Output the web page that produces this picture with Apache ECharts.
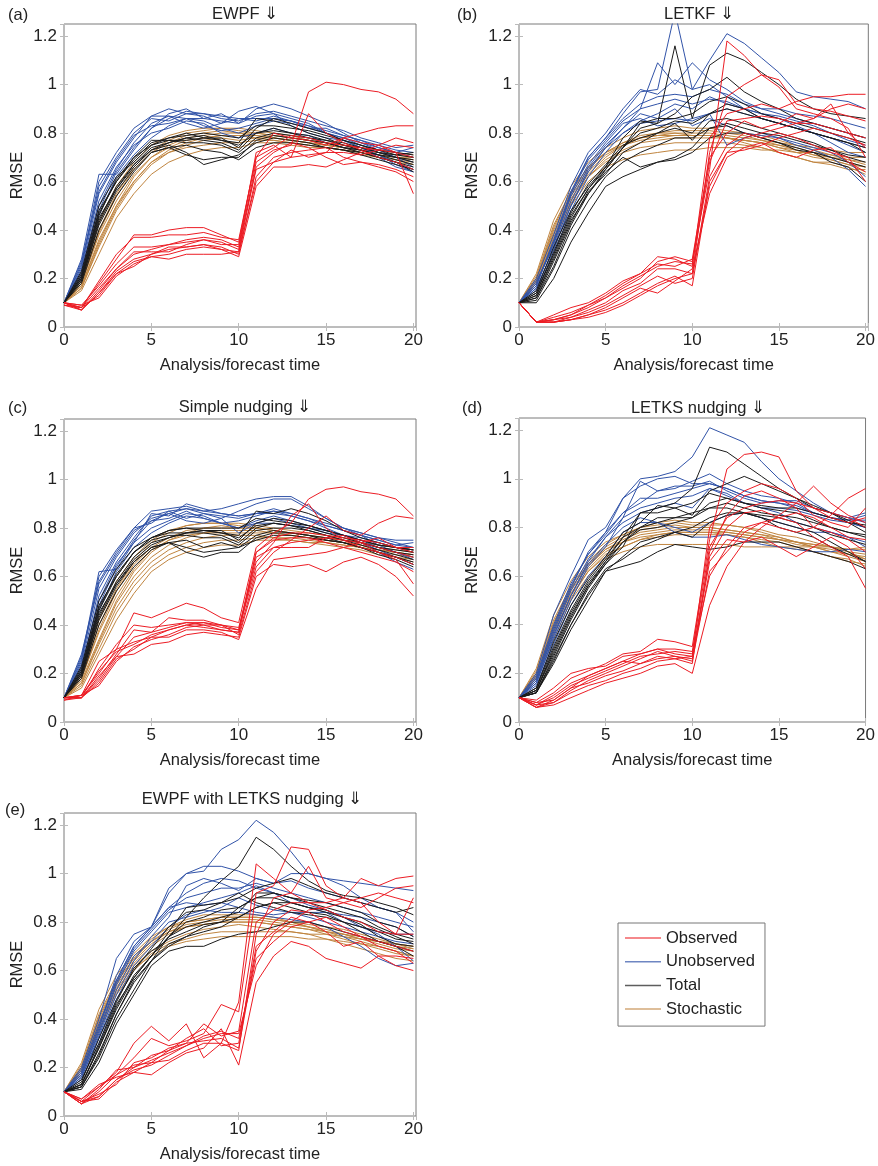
<!DOCTYPE html>
<html>
<head>
<meta charset="utf-8">
<script src="https://cdn.jsdelivr.net/npm/echarts@6/dist/echarts.min.js"></script>
<style>
  html, body { margin: 0; padding: 0; background: #fff; }
  #main { width: 878px; height: 1166px; }
</style>
</head>
<body>
<div id="main"></div>
<script>
// RMSE vs analysis/forecast time, t = 0..20
var panelTitles = ['EWPF \u21D3', 'LETKF \u21D3', 'Simple nudging \u21D3', 'LETKS nudging \u21D3', 'EWPF with LETKS nudging \u21D3'];
var panelTags = ['(a)', '(b)', '(c)', '(d)', '(e)'];
var typeNames = ['Observed', 'Unobserved', 'Total', 'Stochastic'];
var xTicks = [0, 5, 10, 15, 20];
var yTicks = [0, 0.2, 0.4, 0.6, 0.8, 1, 1.2];

// (a) EWPF
var aObs = [
  [.10,.08,.13,.22,.25,.30,.32,.33,.34,.33,.30,.62,.70,.72,.73,.74,.70,.68,.66,.64,.60],
  [.10,.07,.15,.24,.30,.32,.34,.35,.36,.35,.32,.68,.73,.75,.97,1.01,1.00,.98,.97,.94,.88],
  [.09,.08,.18,.28,.38,.38,.40,.41,.41,.38,.35,.70,.80,.78,.77,.75,.78,.80,.82,.83,.83],
  [.10,.09,.17,.26,.33,.33,.34,.36,.37,.36,.33,.72,.75,.70,.88,.80,.76,.73,.70,.68,.65],
  [.10,.07,.14,.22,.27,.29,.30,.32,.33,.32,.29,.58,.66,.66,.67,.66,.69,.72,.75,.78,.76],
  [.09,.08,.16,.24,.31,.31,.31,.34,.36,.34,.34,.65,.68,.73,.70,.72,.78,.76,.75,.72,.55],
  [.10,.09,.12,.21,.26,.29,.28,.30,.30,.30,.31,.66,.72,.76,.74,.70,.67,.68,.67,.65,.62],
  [.10,.08,.19,.30,.37,.37,.38,.38,.39,.37,.36,.70,.74,.79,.78,.76,.75,.74,.73,.72,.70],
  [.09,.07,.14,.23,.28,.30,.33,.33,.34,.32,.31,.60,.68,.70,.71,.72,.72,.71,.73,.75,.74]
];
var aUnobs = [
  [.10,.22,.50,.65,.76,.84,.87,.86,.86,.85,.84,.87,.88,.86,.84,.80,.78,.76,.73,.70,.66],
  [.10,.25,.58,.70,.80,.86,.85,.88,.87,.84,.86,.85,.87,.85,.82,.80,.78,.75,.72,.70,.68],
  [.10,.28,.63,.63,.73,.82,.88,.90,.86,.88,.84,.90,.92,.90,.87,.84,.80,.76,.74,.72,.74],
  [.10,.20,.46,.62,.71,.78,.83,.86,.85,.82,.80,.83,.85,.84,.82,.82,.79,.77,.74,.72,.70],
  [.10,.24,.55,.68,.78,.87,.87,.84,.82,.84,.89,.91,.88,.83,.80,.78,.77,.74,.70,.66,.64],
  [.10,.23,.52,.66,.75,.80,.82,.85,.84,.80,.78,.80,.82,.80,.79,.76,.74,.73,.71,.68,.65],
  [.10,.26,.60,.72,.82,.87,.90,.88,.88,.86,.85,.88,.89,.87,.85,.83,.81,.78,.76,.74,.75],
  [.10,.21,.48,.64,.74,.82,.86,.89,.88,.87,.86,.86,.86,.85,.83,.81,.79,.77,.75,.73,.72],
  [.10,.27,.56,.69,.79,.83,.84,.86,.83,.81,.82,.84,.86,.85,.83,.80,.77,.74,.71,.67,.64]
];
var aTot = [
  [.10,.20,.44,.58,.67,.74,.76,.78,.77,.76,.73,.80,.82,.80,.78,.76,.74,.73,.71,.70,.68],
  [.10,.18,.40,.54,.64,.72,.74,.75,.73,.72,.69,.74,.76,.76,.75,.74,.73,.72,.70,.68,.66],
  [.10,.22,.48,.60,.69,.76,.78,.80,.78,.77,.76,.86,.85,.83,.80,.78,.75,.74,.72,.71,.72],
  [.10,.19,.42,.56,.65,.72,.74,.71,.69,.70,.70,.77,.79,.78,.77,.76,.74,.72,.70,.68,.64],
  [.10,.21,.46,.61,.70,.77,.77,.77,.78,.78,.74,.82,.86,.84,.82,.80,.77,.75,.73,.71,.70],
  [.10,.20,.45,.57,.66,.73,.75,.72,.67,.69,.71,.76,.78,.77,.76,.74,.73,.71,.69,.67,.65],
  [.10,.23,.50,.62,.68,.75,.78,.79,.80,.79,.78,.83,.83,.82,.81,.79,.77,.75,.73,.72,.71],
  [.10,.21,.47,.60,.70,.75,.77,.76,.76,.75,.72,.78,.80,.79,.78,.77,.75,.73,.71,.69,.67],
  [.10,.19,.43,.57,.67,.73,.76,.78,.79,.77,.75,.80,.81,.80,.79,.77,.76,.74,.72,.70,.69]
];
var aSto = [
  [.10,.17,.35,.50,.62,.70,.75,.78,.79,.80,.80,.79,.78,.77,.76,.75,.74,.73,.72,.70,.69],
  [.10,.15,.30,.45,.55,.63,.68,.71,.73,.74,.74,.76,.76,.75,.74,.74,.73,.72,.70,.69,.67],
  [.10,.19,.40,.55,.66,.73,.77,.80,.81,.82,.82,.81,.80,.79,.77,.76,.75,.73,.72,.71,.70],
  [.10,.18,.38,.52,.63,.70,.74,.77,.78,.79,.79,.78,.78,.77,.76,.75,.74,.73,.72,.70,.70],
  [.10,.16,.33,.48,.59,.67,.72,.75,.77,.78,.77,.78,.77,.76,.75,.74,.73,.72,.70,.69,.68],
  [.10,.20,.43,.58,.68,.75,.79,.81,.82,.82,.81,.80,.79,.78,.77,.76,.75,.74,.73,.72,.71],
  [.10,.17,.36,.50,.60,.68,.72,.74,.75,.76,.76,.77,.77,.76,.75,.74,.73,.71,.70,.68,.67],
  [.10,.18,.39,.54,.65,.72,.76,.79,.80,.81,.80,.80,.79,.78,.77,.75,.74,.73,.71,.70,.69],
  [.10,.16,.34,.49,.60,.68,.73,.76,.78,.79,.79,.79,.78,.77,.76,.75,.74,.72,.71,.70,.68]
];

// (b) LETKF
var bObs = [
  [.10,.02,.02,.03,.05,.07,.10,.14,.18,.21,.17,.60,.72,.73,.75,.78,.80,.82,.80,.78,.75],
  [.10,.02,.03,.05,.08,.12,.16,.20,.27,.29,.27,.65,1.18,1.12,1.04,.99,.90,.88,.86,.82,.70],
  [.10,.02,.02,.04,.07,.10,.15,.18,.24,.24,.22,.72,.95,1.00,1.04,1.02,.92,.90,.89,.87,.85],
  [.10,.02,.04,.06,.09,.13,.18,.22,.29,.28,.25,.78,.88,.90,.92,.90,.93,.95,.95,.96,.96],
  [.10,.02,.02,.03,.05,.08,.12,.16,.14,.19,.24,.55,.70,.74,.76,.72,.70,.73,.74,.68,.64],
  [.10,.02,.05,.08,.10,.14,.19,.22,.26,.25,.28,.70,.80,.85,.82,.84,.88,.86,.92,.80,.74],
  [.10,.02,.03,.04,.06,.09,.13,.17,.21,.18,.20,.62,.75,.80,.78,.80,.78,.75,.72,.70,.60],
  [.10,.02,.03,.05,.09,.12,.17,.21,.25,.27,.26,.68,.85,.86,.87,.86,.84,.84,.82,.80,.78],
  [.10,.02,.02,.03,.04,.06,.09,.13,.17,.20,.22,.58,.72,.78,.80,.82,.84,.86,.90,.92,.90]
];
var bUnobs = [
  [.10,.18,.35,.55,.70,.78,.88,.97,.98,1.30,.98,1.10,1.21,1.17,1.11,1.05,.97,.95,.94,.93,.90],
  [.10,.16,.32,.50,.64,.74,.82,.90,1.09,1.00,1.09,1.02,.98,.93,.90,.88,.86,.84,.82,.80,.78],
  [.10,.20,.38,.58,.72,.80,.90,.98,.96,1.02,.98,1.00,.95,.90,.88,.86,.83,.80,.78,.75,.72],
  [.10,.15,.30,.48,.62,.72,.80,.85,.88,.92,.90,.95,.92,.90,.86,.84,.82,.80,.76,.72,.70],
  [.10,.18,.34,.54,.67,.76,.84,.86,.83,.84,.86,.88,.75,.78,.80,.78,.75,.73,.70,.65,.58],
  [.10,.17,.36,.56,.70,.78,.86,.92,.95,.96,.95,.98,.96,.92,.90,.90,.88,.87,.86,.84,.82],
  [.10,.19,.33,.52,.66,.75,.82,.88,.86,.90,.83,.86,.83,.80,.79,.78,.76,.74,.72,.68,.62],
  [.10,.17,.35,.55,.69,.77,.85,.90,.92,.94,.92,.94,.93,.90,.88,.87,.85,.83,.80,.77,.75],
  [.10,.16,.32,.50,.65,.74,.80,.84,.85,.86,.85,.88,.90,.88,.86,.84,.82,.80,.78,.76,.74]
];
var bTot = [
  [.10,.12,.25,.42,.55,.65,.74,.82,.84,1.16,.86,1.08,1.13,1.10,1.05,1.00,.94,.90,.88,.87,.86],
  [.10,.10,.20,.35,.47,.58,.62,.65,.68,.70,.74,.82,.83,.80,.78,.76,.73,.72,.70,.68,.66],
  [.10,.14,.30,.46,.57,.65,.74,.84,.86,.86,.88,.93,.95,.92,.88,.86,.84,.82,.80,.78,.76],
  [.10,.15,.33,.48,.58,.66,.78,.85,.84,.88,.95,.98,1.03,.97,.93,.90,.86,.84,.82,.80,.78],
  [.10,.13,.28,.44,.55,.64,.70,.66,.68,.69,.72,.78,.80,.80,.78,.76,.74,.72,.68,.66,.60],
  [.10,.12,.27,.43,.56,.63,.72,.76,.80,.82,.80,.88,.92,.90,.86,.84,.82,.80,.78,.76,.72],
  [.10,.14,.31,.47,.59,.67,.75,.78,.80,.84,.77,.85,.86,.84,.82,.80,.78,.76,.73,.70,.68],
  [.10,.13,.29,.45,.57,.66,.74,.80,.82,.85,.84,.88,.90,.88,.86,.84,.82,.80,.78,.76,.74],
  [.10,.11,.24,.40,.52,.62,.68,.72,.75,.78,.78,.82,.84,.82,.80,.79,.77,.75,.73,.71,.70]
];
var bSto = [
  [.10,.22,.44,.58,.68,.74,.78,.81,.82,.83,.82,.82,.81,.80,.79,.77,.75,.73,.71,.69,.67],
  [.10,.18,.36,.51,.62,.69,.73,.76,.77,.78,.78,.78,.78,.77,.76,.74,.73,.71,.69,.67,.64],
  [.10,.20,.40,.55,.65,.72,.76,.79,.80,.81,.81,.81,.80,.79,.77,.75,.73,.71,.70,.68,.66],
  [.10,.17,.35,.50,.60,.66,.69,.71,.72,.73,.73,.74,.74,.74,.73,.73,.72,.72,.71,.70,.70],
  [.10,.21,.42,.56,.66,.72,.76,.78,.79,.80,.79,.79,.78,.76,.74,.72,.70,.68,.68,.66,.63],
  [.10,.19,.38,.53,.63,.70,.75,.78,.80,.80,.80,.80,.79,.78,.77,.76,.75,.74,.73,.72,.72],
  [.10,.18,.37,.52,.62,.68,.72,.74,.75,.76,.76,.76,.76,.75,.74,.72,.70,.68,.67,.65,.65],
  [.10,.19,.39,.54,.64,.71,.75,.78,.79,.79,.79,.79,.78,.77,.76,.75,.74,.72,.70,.69,.68],
  [.10,.20,.41,.56,.66,.72,.75,.77,.78,.79,.79,.79,.78,.77,.76,.74,.72,.70,.69,.67,.66]
];

// (c) Simple nudging
var cObs = [
  [.10,.10,.16,.26,.30,.35,.38,.40,.41,.40,.38,.70,.75,.76,.76,.74,.72,.70,.68,.66,.62],
  [.10,.11,.20,.30,.45,.43,.46,.49,.47,.43,.41,.72,.78,.82,.92,.96,.97,.95,.94,.92,.85],
  [.09,.10,.18,.28,.38,.37,.43,.42,.42,.40,.36,.62,.70,.75,.80,.85,.79,.77,.82,.85,.84],
  [.10,.10,.22,.32,.40,.39,.40,.41,.40,.40,.39,.66,.74,.85,.90,.80,.75,.72,.70,.68,.65],
  [.09,.11,.25,.30,.33,.35,.35,.38,.38,.37,.34,.55,.67,.68,.69,.70,.72,.74,.76,.72,.70],
  [.10,.10,.19,.27,.28,.32,.33,.36,.37,.36,.35,.60,.65,.64,.65,.62,.66,.68,.65,.60,.52],
  [.10,.11,.15,.25,.31,.34,.36,.39,.40,.38,.37,.68,.72,.72,.72,.76,.77,.74,.70,.67,.57],
  [.10,.10,.17,.27,.35,.37,.39,.41,.41,.39,.38,.64,.72,.74,.75,.76,.75,.74,.72,.70,.68],
  [.10,.11,.21,.29,.32,.36,.38,.40,.39,.38,.37,.70,.76,.78,.78,.77,.76,.75,.74,.72,.72]
];
var cUnobs = [
  [.10,.22,.52,.66,.76,.85,.87,.88,.86,.84,.87,.90,.92,.92,.88,.84,.80,.78,.76,.74,.72],
  [.10,.26,.62,.63,.74,.86,.85,.90,.88,.86,.85,.86,.88,.86,.84,.81,.79,.77,.75,.73,.74],
  [.10,.28,.58,.70,.80,.87,.88,.89,.87,.88,.90,.92,.93,.93,.89,.84,.80,.77,.73,.70,.67],
  [.10,.20,.46,.62,.72,.78,.82,.85,.84,.82,.80,.82,.84,.82,.80,.79,.77,.75,.72,.70,.68],
  [.10,.24,.55,.68,.78,.84,.86,.83,.82,.84,.78,.82,.82,.81,.80,.78,.77,.74,.70,.66,.63],
  [.10,.23,.50,.65,.74,.80,.83,.86,.85,.82,.80,.83,.85,.83,.81,.79,.77,.76,.74,.72,.71],
  [.10,.25,.60,.71,.80,.82,.87,.84,.86,.85,.84,.86,.87,.86,.84,.82,.80,.78,.76,.75,.75],
  [.10,.21,.48,.64,.75,.83,.86,.88,.87,.86,.85,.86,.86,.85,.83,.81,.79,.77,.75,.73,.72],
  [.10,.27,.57,.69,.79,.83,.84,.87,.84,.82,.83,.85,.87,.85,.83,.80,.77,.74,.71,.68,.65]
];
var cTot = [
  [.10,.20,.44,.58,.68,.74,.76,.78,.78,.77,.74,.80,.82,.81,.79,.77,.75,.74,.72,.71,.70],
  [.10,.18,.40,.54,.64,.71,.74,.75,.72,.74,.72,.75,.77,.77,.76,.75,.74,.72,.70,.68,.66],
  [.10,.22,.48,.60,.70,.76,.79,.80,.79,.78,.77,.87,.86,.88,.86,.83,.79,.76,.74,.72,.71],
  [.10,.19,.42,.56,.66,.72,.74,.70,.68,.70,.70,.76,.78,.78,.77,.76,.74,.72,.70,.68,.65],
  [.10,.21,.46,.60,.70,.76,.78,.78,.79,.79,.75,.82,.84,.83,.81,.79,.77,.75,.73,.72,.71],
  [.10,.20,.45,.57,.66,.72,.74,.72,.70,.71,.72,.77,.79,.78,.77,.75,.74,.72,.69,.67,.64],
  [.10,.23,.50,.63,.72,.76,.79,.80,.80,.80,.80,.84,.83,.82,.81,.79,.77,.75,.73,.72,.70],
  [.10,.21,.47,.61,.70,.75,.77,.77,.76,.76,.73,.79,.80,.80,.79,.77,.75,.73,.71,.69,.67],
  [.10,.19,.43,.57,.67,.73,.76,.78,.79,.78,.76,.81,.82,.81,.80,.78,.76,.74,.72,.70,.69]
];
var cSto = [
  [.10,.17,.34,.50,.62,.70,.75,.78,.80,.80,.80,.80,.79,.78,.77,.76,.75,.74,.72,.71,.70],
  [.10,.14,.28,.42,.53,.62,.67,.70,.72,.73,.73,.75,.75,.75,.74,.74,.73,.72,.70,.68,.66],
  [.10,.19,.40,.55,.66,.74,.78,.81,.82,.82,.82,.81,.80,.79,.78,.77,.76,.74,.73,.72,.71],
  [.10,.18,.37,.52,.63,.71,.75,.77,.78,.78,.78,.78,.78,.77,.76,.75,.74,.73,.71,.70,.69],
  [.10,.16,.32,.47,.58,.66,.71,.74,.76,.77,.77,.77,.76,.76,.75,.74,.73,.72,.70,.69,.68],
  [.10,.20,.42,.58,.68,.75,.79,.81,.82,.82,.81,.80,.79,.78,.77,.76,.75,.74,.73,.72,.71],
  [.10,.15,.30,.45,.56,.64,.69,.72,.74,.75,.75,.76,.76,.75,.74,.73,.72,.71,.69,.68,.67],
  [.10,.18,.38,.54,.65,.72,.76,.79,.80,.81,.80,.80,.79,.78,.77,.75,.74,.73,.71,.70,.69],
  [.10,.16,.33,.49,.60,.68,.73,.76,.78,.79,.79,.79,.78,.77,.76,.75,.74,.72,.71,.70,.68]
];

// (d) LETKS nudging
var dObs = [
  [.10,.07,.08,.12,.15,.17,.20,.22,.25,.26,.24,.70,.85,.93,.95,.92,.88,.80,.78,.75,.70],
  [.10,.06,.07,.10,.13,.16,.18,.20,.23,.24,.20,.48,.64,.74,.80,.85,.90,.97,.90,.85,.82],
  [.10,.08,.12,.18,.21,.24,.28,.29,.34,.33,.31,.75,1.04,1.10,1.11,1.09,.95,.88,.86,.84,.80],
  [.10,.09,.14,.20,.22,.23,.27,.28,.30,.28,.27,.80,.90,.95,.98,.96,.92,.85,.82,.80,.88],
  [.10,.06,.08,.13,.17,.20,.23,.26,.29,.27,.26,.66,.75,.74,.76,.72,.68,.72,.76,.72,.63],
  [.10,.07,.10,.15,.18,.21,.24,.27,.28,.29,.28,.60,.72,.80,.82,.80,.78,.80,.85,.92,.96],
  [.10,.08,.09,.14,.19,.22,.25,.24,.27,.26,.27,.68,.80,.86,.87,.84,.82,.76,.72,.68,.55],
  [.10,.07,.11,.16,.19,.22,.25,.28,.30,.30,.29,.72,.84,.88,.90,.91,.90,.88,.84,.82,.84],
  [.10,.06,.09,.14,.16,.19,.21,.24,.26,.27,.25,.62,.70,.78,.82,.84,.86,.84,.80,.76,.75]
];
var dUnobs = [
  [.10,.18,.38,.55,.70,.78,.92,1.00,1.01,1.03,1.09,1.21,1.18,1.15,1.07,1.00,.95,.90,.86,.84,.82],
  [.10,.16,.34,.50,.64,.72,.84,.99,.95,.96,.99,1.02,.98,.95,.93,.92,.90,.86,.84,.83,.85],
  [.10,.20,.44,.60,.75,.80,.92,.97,1.00,1.01,.98,.98,.96,.93,.91,.90,.89,.86,.84,.82,.80],
  [.10,.15,.32,.48,.60,.68,.78,.82,.82,.80,.78,.82,.85,.86,.84,.82,.80,.78,.78,.76,.74],
  [.10,.17,.36,.52,.66,.76,.82,.86,.88,.90,.88,.96,.94,.90,.88,.86,.82,.80,.78,.76,.72],
  [.10,.19,.40,.57,.69,.77,.86,.90,.95,.97,.97,.99,.95,.92,.90,.91,.91,.88,.86,.84,.86],
  [.10,.16,.35,.52,.65,.73,.80,.84,.82,.78,.76,.76,.77,.75,.73,.72,.71,.70,.70,.71,.70],
  [.10,.17,.37,.54,.67,.76,.84,.88,.90,.92,.93,.96,.93,.90,.88,.88,.87,.85,.83,.82,.80],
  [.10,.18,.39,.56,.69,.78,.86,.92,.92,.94,.96,.98,.96,.93,.91,.90,.88,.86,.84,.83,.83]
];
var dTot = [
  [.10,.12,.27,.42,.55,.65,.72,.86,.88,.90,.96,1.13,1.11,1.06,1.01,.96,.92,.88,.86,.82,.78],
  [.10,.12,.24,.38,.50,.62,.64,.66,.70,.73,.72,.71,.72,.74,.74,.74,.72,.70,.68,.66,.63],
  [.10,.13,.30,.45,.57,.66,.76,.86,.86,.88,.85,.95,.98,1.01,.98,.95,.92,.89,.86,.83,.80],
  [.10,.14,.33,.48,.59,.68,.78,.82,.89,.88,.90,.94,.92,.90,.89,.88,.88,.86,.84,.82,.81],
  [.10,.12,.26,.40,.53,.63,.67,.72,.75,.78,.76,.82,.85,.86,.84,.80,.78,.76,.72,.69,.66],
  [.10,.13,.29,.44,.56,.66,.74,.79,.80,.82,.84,.90,.92,.90,.88,.87,.86,.83,.80,.78,.76],
  [.10,.14,.31,.46,.58,.67,.76,.80,.84,.84,.86,.88,.88,.86,.84,.82,.80,.78,.74,.70,.66],
  [.10,.13,.28,.43,.56,.65,.74,.80,.82,.84,.84,.88,.90,.88,.86,.85,.84,.82,.80,.78,.77],
  [.10,.12,.25,.40,.52,.62,.68,.74,.76,.78,.80,.84,.86,.86,.85,.84,.82,.80,.77,.75,.73]
];
var dSto = [
  [.10,.22,.44,.58,.68,.74,.77,.80,.81,.82,.81,.81,.81,.80,.79,.77,.76,.74,.72,.70,.67],
  [.10,.18,.36,.51,.62,.69,.72,.75,.76,.77,.77,.77,.77,.76,.75,.74,.72,.70,.68,.67,.64],
  [.10,.20,.40,.55,.65,.72,.76,.79,.80,.81,.80,.80,.79,.78,.77,.76,.74,.73,.72,.70,.69],
  [.10,.17,.34,.50,.60,.67,.70,.72,.73,.73,.73,.73,.73,.72,.72,.72,.72,.72,.72,.71,.71],
  [.10,.21,.42,.56,.66,.73,.77,.80,.82,.83,.82,.82,.81,.80,.78,.76,.74,.72,.70,.68,.66],
  [.10,.19,.38,.53,.63,.70,.74,.77,.78,.79,.79,.79,.78,.77,.76,.75,.74,.73,.72,.71,.72],
  [.10,.18,.37,.52,.62,.68,.72,.75,.77,.78,.78,.78,.77,.76,.74,.72,.71,.70,.68,.66,.65],
  [.10,.19,.39,.54,.64,.71,.75,.78,.79,.80,.80,.80,.79,.78,.77,.75,.74,.72,.71,.69,.68],
  [.10,.20,.41,.55,.65,.71,.74,.76,.77,.78,.78,.78,.78,.77,.76,.75,.73,.72,.70,.69,.67]
];

// (e) EWPF with LETKS nudging
var eObs = [
  [.10,.06,.07,.14,.18,.22,.23,.27,.30,.30,.27,.75,.90,.92,.88,.85,.82,.80,.76,.75,.75],
  [.10,.05,.10,.17,.24,.32,.29,.31,.34,.46,.43,.92,.95,1.11,1.10,.95,.90,.98,.95,.98,.99],
  [.10,.06,.12,.18,.30,.37,.31,.38,.24,.30,.47,1.04,.98,.92,1.03,.90,.88,.86,.90,.94,.95],
  [.10,.05,.08,.15,.19,.21,.25,.29,.33,.35,.32,.65,.72,.78,.80,.76,.70,.72,.66,.66,.65],
  [.10,.07,.13,.16,.18,.17,.22,.26,.28,.36,.21,.55,.66,.72,.70,.65,.63,.61,.66,.62,.60],
  [.10,.06,.09,.13,.22,.24,.28,.30,.38,.33,.35,.80,.85,.88,.88,.88,.90,.88,.80,.75,.90],
  [.10,.05,.11,.19,.20,.25,.27,.32,.36,.29,.30,.70,.76,.82,.80,.82,.78,.74,.70,.68,.63],
  [.10,.06,.08,.15,.20,.23,.26,.29,.32,.34,.34,.62,.75,.80,.85,.86,.88,.90,.92,.90,.88],
  [.10,.07,.12,.17,.21,.22,.27,.30,.31,.32,.28,.68,.80,.85,.84,.80,.76,.74,.72,.70,.68]
];
var eUnobs = [
  [.10,.18,.36,.58,.72,.78,.92,1.00,1.01,1.10,1.14,1.22,1.17,1.09,1.00,.98,.97,.96,.95,.94,.93],
  [.10,.16,.32,.50,.64,.74,.82,.95,.98,.96,.93,.98,.96,.97,.94,.92,.90,.88,.86,.84,.80],
  [.10,.20,.40,.65,.75,.78,.94,1.00,1.03,1.03,1.01,.98,.96,1.00,1.00,.98,.95,.90,.86,.84,.76],
  [.10,.15,.30,.48,.62,.70,.78,.83,.85,.84,.84,.83,.82,.81,.80,.78,.74,.70,.65,.62,.63],
  [.10,.17,.34,.54,.68,.76,.84,.86,.88,.90,.92,.95,.92,.88,.86,.84,.80,.78,.76,.75,.75],
  [.10,.19,.38,.56,.70,.78,.86,.92,.96,.98,.97,.94,.92,.90,.87,.85,.82,.78,.75,.70,.64],
  [.10,.16,.33,.52,.66,.72,.80,.82,.84,.86,.90,.87,.85,.84,.82,.80,.78,.76,.74,.72,.71],
  [.10,.17,.35,.55,.69,.77,.85,.90,.92,.94,.94,.96,.94,.92,.90,.88,.86,.84,.82,.80,.78],
  [.10,.18,.37,.56,.70,.78,.86,.88,.87,.88,.86,.84,.83,.84,.84,.84,.83,.82,.80,.78,.74]
];
var eTot = [
  [.10,.12,.25,.42,.56,.64,.74,.82,.90,.97,1.03,1.15,1.10,1.03,.97,.93,.91,.90,.88,.86,.83],
  [.10,.11,.22,.38,.50,.62,.68,.70,.70,.73,.75,.76,.78,.80,.80,.78,.76,.74,.72,.70,.66],
  [.10,.13,.28,.45,.58,.66,.76,.86,.87,.88,.90,.94,.96,.98,.95,.92,.90,.88,.86,.84,.86],
  [.10,.14,.32,.48,.60,.69,.78,.84,.85,.88,.92,.88,.86,.84,.83,.82,.80,.78,.76,.73,.72],
  [.10,.12,.24,.40,.52,.64,.71,.74,.76,.78,.82,.86,.88,.86,.84,.83,.80,.76,.72,.70,.68],
  [.10,.13,.29,.46,.57,.66,.74,.78,.80,.82,.84,.92,.92,.90,.89,.88,.86,.84,.80,.78,.74],
  [.10,.15,.30,.47,.61,.68,.73,.76,.79,.80,.86,.90,.90,.88,.86,.85,.82,.79,.74,.71,.70],
  [.10,.13,.28,.44,.57,.66,.74,.80,.82,.85,.86,.90,.92,.90,.88,.86,.84,.82,.78,.75,.73],
  [.10,.12,.26,.42,.55,.64,.70,.74,.78,.80,.82,.86,.88,.88,.86,.84,.82,.80,.77,.74,.71]
];
var eSto = [
  [.10,.22,.44,.58,.67,.74,.78,.80,.81,.82,.82,.82,.81,.80,.79,.78,.77,.75,.73,.71,.69],
  [.10,.18,.36,.51,.61,.66,.70,.72,.73,.74,.74,.74,.74,.74,.73,.73,.72,.71,.70,.68,.66],
  [.10,.20,.40,.55,.65,.72,.77,.80,.81,.82,.82,.82,.81,.80,.78,.77,.75,.73,.72,.70,.69],
  [.10,.17,.35,.50,.60,.67,.71,.73,.75,.76,.76,.76,.76,.76,.75,.75,.74,.73,.72,.71,.70],
  [.10,.21,.42,.56,.66,.73,.78,.81,.83,.83,.83,.83,.82,.80,.78,.76,.74,.72,.70,.68,.66],
  [.10,.19,.38,.53,.63,.70,.75,.78,.79,.80,.80,.80,.79,.78,.77,.76,.75,.74,.72,.71,.70],
  [.10,.18,.37,.52,.62,.68,.72,.75,.77,.78,.79,.78,.77,.76,.75,.73,.71,.69,.67,.65,.64],
  [.10,.19,.39,.54,.64,.71,.76,.79,.80,.81,.81,.81,.80,.79,.78,.76,.75,.73,.71,.69,.68],
  [.10,.20,.41,.55,.65,.72,.76,.78,.79,.80,.80,.80,.79,.78,.77,.75,.73,.71,.69,.67,.66]
];

var panelData = [
  [aObs, aUnobs, aTot, aSto],
  [bObs, bUnobs, bTot, bSto],
  [cObs, cUnobs, cTot, cSto],
  [dObs, dUnobs, dTot, dSto],
  [eObs, eUnobs, eTot, eSto]
];

var typeColors = ['#ec1c24', '#3153a8', '#1a1a1a', '#c08540'];
var drawOrder = [3, 1, 2, 0]; // stochastic, unobserved, total, observed on top

// layout
var gridPos = [
  { left: 64, top: 24, width: 352, height: 303 },
  { left: 519, top: 24, width: 351, height: 303 },
  { left: 64, top: 419, width: 352, height: 303 },
  { left: 519, top: 418, width: 348, height: 304 },
  { left: 64, top: 813, width: 352, height: 303 }
];
var xMaxes = [20.15, 20.16, 20.15, 20.0, 20.15];
var titlePos = [[240, 1], [694, 1], [240, 394], [693, 395], [247, 786]];
var tagPos = [[3, 2], [452, 2], [3, 395], [457, 395], [0, 797]];

var fontFam = '"Liberation Sans", Arial, Helvetica, sans-serif';
var textCol = '#222';

var chart = echarts.init(document.getElementById('main'), null, { renderer: 'canvas' });

var grids = [], xAxes = [], yAxes = [], titles = [], series = [];

function xLabel(v) {
  return xTicks.indexOf(Math.round(v * 100) / 100) >= 0 ? String(v) : '';
}
function yLabel(v) {
  var r = Math.round(v * 10) / 10;
  return (yTicks.indexOf(r) >= 0 && Math.abs(v - r) < 1e-6) ? String(r) : '';
}

gridPos.forEach(function (g, i) {
  grids.push({
    left: g.left, top: g.top, width: g.width, height: g.height,
    show: true, borderColor: '#7a7a7a', borderWidth: 1, backgroundColor: 'transparent'
  });
  titles.push({
    text: panelTitles[i], left: titlePos[i][0], top: titlePos[i][1], textAlign: 'center',
    textStyle: { fontSize: 16.5, fontWeight: 'normal', color: textCol, fontFamily: fontFam }
  });
  titles.push({
    text: panelTags[i], left: tagPos[i][0], top: tagPos[i][1],
    textStyle: { fontSize: 16.5, fontWeight: 'normal', color: textCol, fontFamily: fontFam }
  });
});

// bottom / left axes with labels
gridPos.forEach(function (g, i) {
  xAxes.push({
    type: 'value', gridIndex: i, min: 0, max: xMaxes[i], interval: 5,
    axisLine: { show: false },
    axisTick: { inside: true, length: 4, lineStyle: { color: '#bbb' } },
    splitLine: { show: false },
    axisLabel: { formatter: xLabel, fontSize: 17, color: textCol, fontFamily: fontFam, margin: 5 },
    name: 'Analysis/forecast time', nameLocation: 'middle', nameGap: 30,
    nameTextStyle: { fontSize: 16.5, color: textCol, fontFamily: fontFam }
  });
  yAxes.push({
    type: 'value', gridIndex: i, min: 0, max: 1.25, interval: 0.2,
    axisLine: { show: false },
    axisTick: { inside: true, length: 4, lineStyle: { color: '#bbb' } },
    splitLine: { show: false },
    axisLabel: { formatter: yLabel, fontSize: 17, color: textCol, fontFamily: fontFam, margin: 7 },
    name: 'RMSE', nameLocation: 'middle', nameGap: 38,
    nameTextStyle: { fontSize: 16.5, color: textCol, fontFamily: fontFam }
  });
});
// mirrored tick marks on top / right
gridPos.forEach(function (g, i) {
  xAxes.push({
    type: 'value', gridIndex: i, min: 0, max: xMaxes[i], interval: 5, position: 'top',
    axisLine: { show: false }, axisLabel: { show: false }, splitLine: { show: false },
    axisTick: { inside: true, length: 4, lineStyle: { color: '#bbb' } }
  });
  yAxes.push({
    type: 'value', gridIndex: i, min: 0, max: 1.25, interval: 0.2, position: 'right',
    axisLine: { show: false }, axisLabel: { show: false }, splitLine: { show: false },
    axisTick: { inside: true, length: 4, lineStyle: { color: '#bbb' } }
  });
});

panelData.forEach(function (groups, i) {
  drawOrder.forEach(function (k) {
    groups[k].forEach(function (run) {
      series.push({
        type: 'line', name: typeNames[k], xAxisIndex: i, yAxisIndex: i,
        data: run.map(function (v, t) { return [t, v]; }),
        showSymbol: false, symbol: 'none', silent: true,
        lineStyle: { width: 1, color: typeColors[k] },
        itemStyle: { color: typeColors[k] },
        emphasis: { disabled: true }
      });
    });
  });
});

var option = {
  animation: false,
  backgroundColor: '#fff',
  title: titles,
  grid: grids,
  xAxis: xAxes,
  yAxis: yAxes,
  legend: {
    data: typeNames, orient: 'vertical', left: 618, top: 923,
    padding: [6, 10, 8, 7], itemGap: 5.7, itemWidth: 36, itemHeight: 1.5, icon: 'rect',
    borderColor: '#777', borderWidth: 1, selectedMode: false,
    itemStyle: { opacity: 0.7 },
    textStyle: { fontSize: 16.5, color: textCol, fontFamily: fontFam, lineHeight: 18 }
  },
  series: series
};

chart.setOption(option);
</script>
</body>
</html>
